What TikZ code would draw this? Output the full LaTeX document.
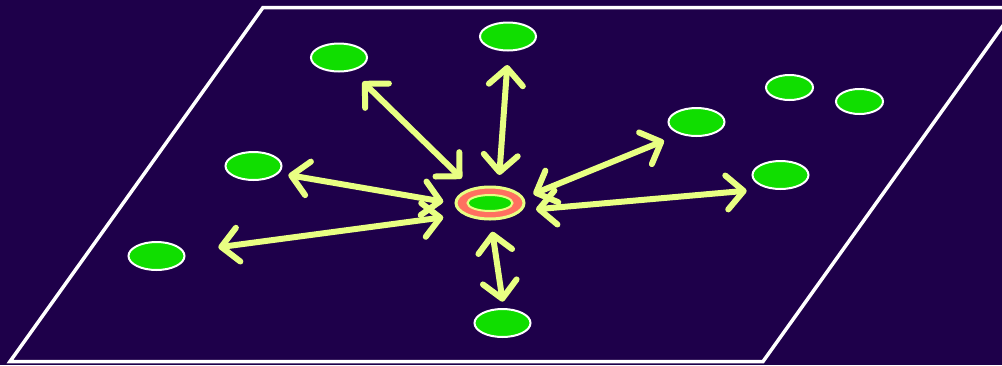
\documentclass[tikz,border=0pt]{standalone}
\usetikzlibrary{shapes.geometric,arrows.meta}
\definecolor{bgc}{RGB}{30,0,74}
\definecolor{nodegreen}{RGB}{16,222,0}
\definecolor{salmon}{RGB}{255,112,96}
\definecolor{lime}{RGB}{232,255,130}
\tikzset{
  x=1pt,y=-1pt,
  spot/.style={ellipse,draw=white,line width=2pt,fill=nodegreen,inner sep=0pt,minimum width=56pt,minimum height=28pt},
  smallspot/.style={spot,minimum width=47pt,minimum height=25pt},
  hub/.style={ellipse,draw=lime,line width=3pt,fill=salmon,inner sep=0pt,minimum width=68pt,minimum height=32pt},
  hubcore/.style={ellipse,draw=lime,line width=2pt,fill=nodegreen,inner sep=0pt,minimum width=45pt,minimum height=16pt},
  link/.style={draw=lime,line width=6pt,line cap=round,
    {Straight Barb[length=17pt,width=34pt,round]}-{Straight Barb[length=17pt,width=34pt,round]}},
  plane/.style={draw=white,line width=3.5pt}
}
\begin{document}
\begin{tikzpicture}
\fill[bgc] (0,0) rectangle (1002,365);
\useasboundingbox (0,0) rectangle (1002,365);
\draw[plane] (10,361.5) -- (263,7.5) -- (1016,7.5) -- (763,361.5) -- cycle;

\node[hub] (c) at (490,203) {};
\node[hubcore] (cc) at (490,203) {};

\node[spot] (n1) at (339,57.5) {};
\node[spot] (n2) at (508,36.5) {};
\node[spot] (n3) at (253.5,166) {};
\node[spot] (n4) at (156.5,256) {};
\node[spot] (n5) at (696.5,122) {};
\node[spot] (n6) at (780.5,175) {};
\node[spot] (n7) at (502.5,323) {};
\node[smallspot] (n8) at (789.5,87.5) {};
\node[smallspot] (n9) at (859.5,101.5) {};

\draw[link] ([shift={(-28.3,-24.7)}]c.center) -- ([shift={(23.7,24.2)}]n1.center);
\draw[link] ([shift={(9.3,-28)}]c.center) -- ([shift={(-0.7,28.5)}]n2.center);
\draw[link] ([shift={(-46.7,-1.3)}]c.center) -- ([shift={(34.8,9)}]n3.center);
\draw[link] ([shift={(-46.7,14.3)}]c.center) -- ([shift={(61.8,-8.7)}]n4.center);
\draw[link] ([shift={(43.3,-9)}]c.center) -- ([shift={(-32.5,18.7)}]n5.center);
\draw[link] ([shift={(46,6.3)}]c.center) -- ([shift={(-33.8,15.7)}]n6.center);
\draw[link] ([shift={(2.3,28.7)}]c.center) -- ([shift={(0.2,-21.3)}]n7.center);
\end{tikzpicture}
\end{document}
